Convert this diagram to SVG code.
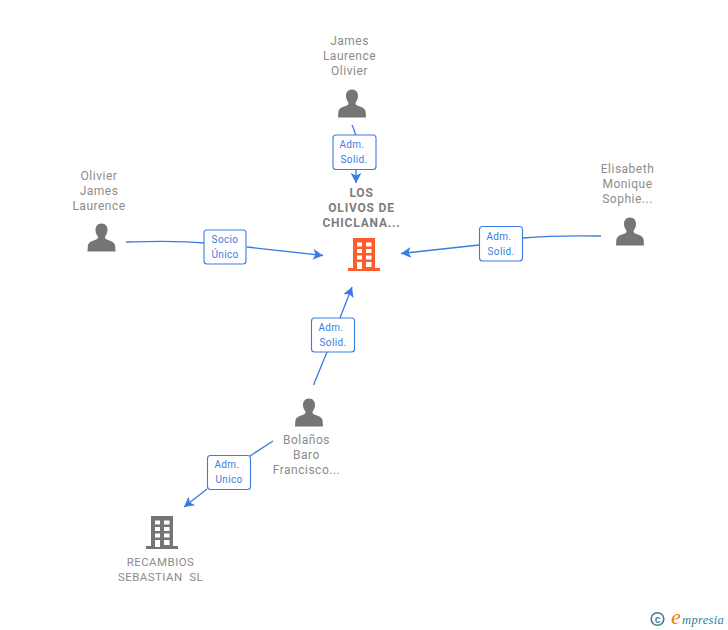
<svg xmlns="http://www.w3.org/2000/svg" width="728" height="630" viewBox="0 0 728 630">
<style>
text{font-family:Roboto,"Liberation Sans",sans-serif}
.n{font-size:12px;fill:#8c8c8c;text-anchor:middle;letter-spacing:.5px}
.b{font-size:12px;fill:#7d7d7d;text-anchor:middle;font-weight:700;letter-spacing:.8px}
.c{font-size:11.500px;fill:#8c8c8c;text-anchor:middle;letter-spacing:.45px}
.l{font-size:10px;fill:#3a7de0;text-anchor:middle;letter-spacing:.35px}
.e{fill:none;stroke:#3a7de0;stroke-width:1.3}
.box{fill:#fff;stroke:#3a7de0;stroke-width:1.1}
.p{fill:#757575}
</style>
<defs>
<marker id="a" markerUnits="userSpaceOnUse" markerWidth="13" markerHeight="13" refX="10" refY="6" orient="auto"><path d="M0 0.500L10 6L0 11.500L2.500 6Z" fill="#3a7de0"/></marker>
<path id="u" d="M0-14.500C-4.300-14.500-6.300-11-6-7.500C-5.800-5-5-3.300-3.700-1.800C-3.300-.6-3.600.6-4.800 1.300C-7.500 2.500-12.800 3.500-13.600 7.500L-14 13.500H14L13.600 7.500C12.800 3.500 7.500 2.500 4.800 1.300C3.600.6 3.300-.6 3.700-1.800C5-3.300 5.800-5 6-7.500C6.300-11 4.300-14.500 0-14.500Z"/>
<path id="h" fill-rule="evenodd" d="M-11-17H11V13H16V16H-16V13H-11ZM-7-12.500V-8.500H-2V-12.500ZM2-12.500V-8.500H7.500V-12.500ZM-7-6V-2H-2V-6ZM2-6V-2H7.500V-6ZM-7 .5V4.500H-2V.5ZM2 .5V4.500H7.500V.5ZM-7 7V14H-2V7ZM2 7V12H7.500V7Z"/>
</defs>
<g id="connectors">
<path class="e" d="M352 125C354 129 355 132 356 136"/>
<path class="e" d="M356 170V183" marker-end="url(#a)"/>
<path class="e" d="M126 242C155 241 185 241 204 243"/>
<path class="e" d="M247 247L323 255.500" marker-end="url(#a)"/>
<path class="e" d="M601 236C570 235.500 545 236 523 238"/>
<path class="e" d="M479 245L401 253.500" marker-end="url(#a)"/>
<path class="e" d="M313.500 385L327 352"/>
<path class="e" d="M340 318L352 287" marker-end="url(#a)"/>
<path class="e" d="M273 441L250 456"/>
<path class="e" d="M207 489L184 507" marker-end="url(#a)"/>
</g>
<g id="n-james"><text class="n" x="349.500" y="45">James</text><text class="n" x="349.500" y="60">Laurence</text><text class="n" x="349.500" y="75">Olivier</text><use href="#u" x="352" y="104" class="p"/></g>
<g id="n-olivos"><text class="b" x="361.500" y="197">LOS</text><text class="b" x="361.500" y="212">OLIVOS DE</text><text class="b" x="361.500" y="227">CHICLANA...</text><use href="#h" x="364" y="255" fill="#ff5c2e"/></g>
<g id="n-olivier"><text class="n" x="99" y="180">Olivier</text><text class="n" x="99" y="195">James</text><text class="n" x="99" y="210">Laurence</text><use href="#u" x="101.500" y="238" class="p"/></g>
<g id="n-elisabeth"><text class="n" x="627.500" y="173">Elisabeth</text><text class="n" x="627.500" y="188">Monique</text><text class="n" x="627.500" y="203">Sophie...</text><use href="#u" x="630" y="232" class="p"/></g>
<g id="n-bolanos"><use href="#u" x="309" y="413" class="p"/><text class="n" x="306.500" y="444">Bolaños</text><text class="n" x="306.500" y="459">Baro</text><text class="n" x="306.500" y="474">Francisco...</text></g>
<g id="n-recambios"><use href="#h" x="162" y="533" class="p"/><text class="c" x="160.500" y="566">RECAMBIOS</text><text class="c" x="160.500" y="581" xml:space="preserve">SEBASTIAN  SL</text></g>
<g id="l1"><rect class="box" x="333" y="135" width="43" height="34.500" rx="3"/><text class="l" x="352" y="148">Adm.</text><text class="l" x="354" y="163">Solid.</text></g>
<g id="l2"><rect class="box" x="204" y="230" width="42" height="34" rx="3"/><text class="l" x="225" y="243">Socio</text><text class="l" x="225" y="258">Único</text></g>
<g id="l3"><rect class="box" x="479.500" y="226.500" width="43" height="34.500" rx="3"/><text class="l" x="499" y="240">Adm.</text><text class="l" x="501" y="255">Solid.</text></g>
<g id="l4"><rect class="box" x="311.500" y="318" width="43" height="34" rx="3"/><text class="l" x="331" y="331">Adm.</text><text class="l" x="333" y="346">Solid.</text></g>
<g id="l5"><rect class="box" x="207.500" y="455.500" width="43" height="34" rx="3"/><text class="l" x="227" y="468">Adm.</text><text class="l" x="229" y="483">Unico</text></g>
<g id="logo"><circle cx="657.500" cy="619" r="6.300" fill="none" stroke="#3f7f96" stroke-width="1.600"/><text x="657.500" y="622.500" font-size="10" font-weight="700" fill="#3f7f96" text-anchor="middle" style="font-family:'Liberation Sans',sans-serif">c</text><text x="671" y="624" font-size="12.500" fill="#2f7f96" font-style="italic" style="font-family:'Liberation Serif',serif;letter-spacing:.3px"><tspan font-size="22" fill="#f07d12">e</tspan><tspan dx="1">mpresia</tspan></text></g>
</svg>
